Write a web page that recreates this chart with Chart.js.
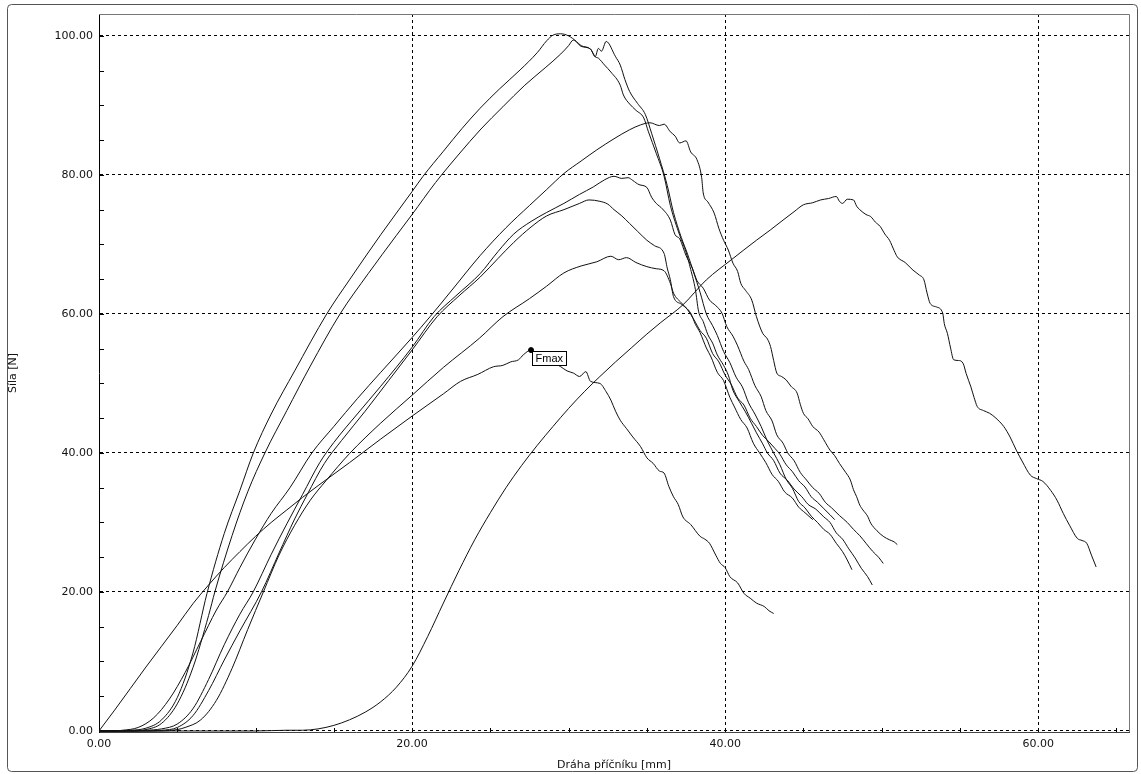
<!DOCTYPE html>
<html>
<head>
<meta charset="utf-8">
<script src="https://cdn.jsdelivr.net/npm/chart.js@4/dist/chart.umd.min.js"></script>
<style>
  html, body { margin: 0; padding: 0; background: #fff; }
  #wrap { width: 1141px; height: 774px; position: relative; }
</style>
</head>
<body>
<div id="wrap"><canvas id="c"></canvas></div>
<script>
// ---- Data (x = Dráha příčníku [mm], y = Síla [N]) ----
const xTicks = [0, 20, 40, 60];
const yTicks = [0, 20, 40, 60, 80, 100];
const xTitle = "Dráha příčníku [mm]";
const yTitle = "Síla [N]";
const markerLabel = "Fmax";

const curveA = [[0,0],[1,0],[2,0.1],[3,0.4],[4,1.6],[5,4.8],[6,11.2],[6.9,19.8],[8,28.4],[9,34.6],[9.86,40],[11,45.6],[12.5,51.8],[14.55,60],[16,64.9],[18,71.4],[20,77.6],[20.7,79.8],[22,83.4],[23.2,86.7],[24.35,89.6],[25.6,92.4],[26.9,95.1],[28,97.6],[28.6,99.3],[29.0,100.1],[29.5,100.3],[30.0,100.0],[30.5,99.2],[30.8,98.6],[31.4,98.1],[31.7,97.0],[31.9,96.8],[32.3,95.8],[32.7,94.8],[33.3,92.9],[33.5,91.5],[33.9,90.2],[34.3,89.3],[34.8,88.2],[35.1,86.2],[35.6,83.1],[36.1,79.8],[36.5,75.6],[37.1,71.3],[37.5,68.9],[37.8,66.4],[38.1,63.5],[38.3,60.4],[38.6,58.9],[38.9,57.0],[39.2,55.8],[39.5,54.1],[39.9,52.6],[40.2,51.2],[40.5,49.0],[40.9,47.4],[41.3,45.9],[41.7,44.2],[42.0,42.9],[42.4,41.3],[42.7,40.0],[43.1,38.9],[43.5,37.1],[44.0,36.0],[44.4,34.8],[44.9,33.7],[45.3,32.6],[45.8,31.9],[46.3,30.8],[46.7,30.0],[47.1,28.5],[47.5,27.6],[47.9,26.2],[48.3,24.9],[48.7,23.4],[49.1,22.2],[49.4,21.0]];

const curveB = [[0,0],[1,0],[2,0],[3,0.2],[4,1.1],[5,3.9],[6,9.1],[7,16.6],[7.4,20],[8.5,28.1],[9.5,34.4],[10.6,40],[12,46.1],[13.5,52.5],[15.4,60],[17.2,65.8],[19,71.3],[20,74.3],[21.5,78.9],[23,83.0],[24.4,86.6],[25.8,89.8],[27.2,92.9],[28.5,95.4],[29.5,97.4],[30.0,98.6],[30.3,99.4],[30.8,98.5],[31.4,98.1],[31.7,97.0],[31.9,98.2],[32.1,97.8],[32.4,99.2],[33.0,97.0],[33.3,95.8],[33.6,93.7],[33.9,92.0],[34.4,90.3],[34.9,88.7],[35.3,86.0],[35.8,82.4],[36.3,78.5],[36.7,74.6],[37.2,71.0],[37.6,68.6],[38.0,65.9],[38.4,63.1],[38.8,60.0],[39.2,58.3],[39.5,56.9],[39.9,54.6],[40.3,53.0],[40.7,50.9],[41.1,49.5],[41.5,47.2],[41.9,45.6],[42.3,43.8],[42.7,41.7],[43.1,40.0],[43.5,38.3],[43.9,36.2],[44.3,34.9],[44.7,33.0],[45.1,32.1],[45.5,30.9],[45.9,30.0],[46.3,29.0],[46.7,28.3],[47.1,27.0],[47.5,25.8],[47.8,24.6],[48.1,23.2]];

const curveC = [[0,0],[1,0],[1.5,0.1],[2.5,0.5],[3.5,1.9],[4.5,4.6],[5.5,8.4],[6.5,12.9],[7.5,17.4],[8.2,20],[9,23.5],[10,27.6],[11,31.3],[12.2,35],[13.6,40],[15,43.8],[16.5,47.8],[18,51.6],[20,56.6],[21.15,59.6],[22.5,63.3],[24.35,68.4],[26,72.4],[27.5,75.6],[28.6,77.9],[29.7,80.2],[30.8,82.0],[31.8,83.6],[32.9,85.2],[33.9,86.5],[34.6,87.2],[35.2,87.5],[35.8,87.1],[36.1,87.3],[36.5,86.2],[36.8,85.6],[37.1,84.6],[37.5,84.9],[37.8,83.3],[38.2,82.2],[38.5,79.6],[38.6,77.4],[38.9,76.1],[39.3,74.5],[39.6,72.3],[39.9,70.6],[40.2,69.2],[40.5,67.3],[40.8,66.1],[41.0,64.4],[41.3,63.4],[41.7,62.0],[42.0,59.6],[42.4,57.2],[42.7,56.4],[42.9,55.3],[43.1,53.3],[43.3,51.5],[43.6,51.0],[43.9,50.5],[44.2,49.6],[44.6,48.6],[44.8,47.0],[45.0,45.7],[45.3,44.9],[45.6,43.8],[46.0,43.0],[46.3,41.9],[46.7,40.4],[47.0,39.6],[47.3,38.5],[47.7,37.2],[48.0,36.1],[48.2,34.7],[48.4,33.7],[48.6,32.5],[48.8,31.8],[49.1,30.9],[49.3,29.9],[49.7,28.8],[50.1,28.0],[50.5,27.5],[50.8,27.2],[51.0,26.8]];

const curveD = [[0,0],[1,0],[2,0],[3,0.1],[4,0.3],[5,1.0],[6,3.2],[7,7.4],[8,12.4],[9,16.8],[9.85,20],[11,25.4],[12,29.8],[13,34.0],[14.1,38.6],[15,41.5],[16.5,45.6],[18,49.6],[20,55.2],[21.4,59.6],[22.8,62.6],[24.35,65.8],[25.5,69.0],[26.5,71.5],[27.6,73.3],[28.6,74.6],[29.7,75.9],[30.7,77.2],[31.6,78.3],[32.3,79.3],[32.9,79.8],[33.4,79.5],[33.8,79.6],[34.1,79.2],[34.5,78.6],[35.0,78.2],[35.3,76.8],[35.6,75.9],[36.0,75.1],[36.5,73.5],[36.8,71.4],[37.1,70.8],[37.5,68.4],[37.9,66.6],[38.2,64.8],[38.6,63.7],[39.0,62.0],[39.4,61.2],[39.8,60.1],[40.1,58.2],[40.5,56.8],[40.8,55.4],[41.2,53.2],[41.5,52.0],[41.9,49.7],[42.3,48.1],[42.6,46.1],[43.0,44.6],[43.3,42.6],[43.7,41.4],[44.0,40.0],[44.4,38.9],[44.8,37.2],[45.2,36.1],[45.6,35.0],[46.0,34.2],[46.4,32.9],[46.8,32.1],[47.3,31.0],[47.8,30.0],[48.2,29.0],[48.6,28.1],[49.0,27.0],[49.4,25.9],[49.8,25.0],[50.1,24.1]];

const curveE = [[0,0],[1,0],[2,0],[3,0],[4,0.1],[5,0.5],[6,2.2],[7,5.8],[8,10.2],[9,14.4],[10.4,20.1],[11.5,25.6],[12.5,30.5],[13.3,34.0],[14.4,38.5],[15.5,41.8],[17,46.0],[18.5,50.4],[20,54.8],[21.6,59.6],[23,62.6],[24.35,65.3],[25.5,68.0],[26.5,70.3],[27.6,72.5],[28.6,74.1],[29.7,75.0],[30.7,75.9],[31.3,76.4],[32.0,76.2],[32.5,75.8],[32.9,75.0],[33.4,74.1],[33.9,73.0],[34.4,71.9],[35.0,70.6],[35.5,69.8],[36.1,68.7],[36.3,66.6],[36.5,64.9],[36.7,62.5],[37.2,61.4],[37.8,60.1],[38.1,58.5],[38.4,57.3],[38.8,55.1],[39.1,53.8],[39.5,51.6],[39.9,50.4],[40.3,48.0],[40.6,46.6],[41.0,44.8],[41.4,43.6],[41.8,41.4],[42.2,40.0],[42.6,38.6],[43.0,36.9],[43.4,35.9],[43.8,34.4],[44.3,33.5],[44.7,32.2],[45.1,31.4],[45.6,30.4]];

const curveF = [[0,0],[1,0],[2,0],[3,0],[4,0],[5,0.2],[5.5,0.5],[6.5,1.6],[7.5,4.4],[8.5,9.0],[9.5,14.6],[10.5,20],[11.5,25.3],[12.5,29.6],[13.5,33.2],[14.5,36.0],[16,39.9],[18,44.3],[20,48.3],[22,52.3],[24.3,56.5],[25.8,59.6],[27.5,62.2],[28.6,64.0],[29.7,65.9],[30.8,66.9],[31.8,67.5],[32.7,68.3],[33.2,67.8],[33.7,68.1],[34.3,67.4],[35.0,66.8],[35.6,66.5],[36.1,66.2],[36.5,64.4],[36.7,63.0],[37.2,61.6],[37.6,60.6],[38.0,59.2],[38.4,57.6],[38.8,56.5],[39.2,54.3],[39.6,53.1],[40.0,51.2],[40.4,49.8],[40.8,47.9],[41.2,46.9],[41.6,45.0],[42.0,43.8],[42.4,42.5],[42.8,41.6],[43.2,40.6],[43.5,39.8],[43.9,38.3],[44.3,37.3],[44.7,36.0],[45.1,35.1],[45.5,33.7],[45.9,32.9],[46.3,32.0],[46.7,31.1],[47.0,30.4]];

const curveG = [[0,0],[1,3],[2,6.1],[3,9.2],[4,12.2],[5,15.2],[6,18.3],[7,21],[8,23.5],[9,25.8],[10,28],[11,30],[12,31.8],[13,33.6],[14,35.3],[16,38.6],[18,42],[20,45.3],[22,48.5],[23.1,50.3],[24.2,51.3],[25.2,52.4],[25.8,52.6],[26.3,53.1],[26.8,53.4],[27.1,54.1],[27.6,54.8],[28.0,53.8],[28.5,53.4],[29.0,53.0],[29.5,52.4],[29.9,51.8],[30.3,51.5],[30.7,51.0],[31.1,51.7],[31.4,50.3],[32.0,50.0],[32.4,48.8],[32.7,47.6],[33.0,46.0],[33.3,44.7],[33.7,43.5],[34.1,42.3],[34.6,40.9],[35.0,39.3],[35.4,38.5],[35.8,37.4],[36.1,37.1],[36.4,35.2],[36.7,33.7],[37.0,32.6],[37.3,30.8],[37.8,29.7],[38.4,28.0],[38.7,27.6],[39.0,27.0],[39.4,25.3],[39.7,24.1],[40.0,23.5],[40.3,22.2],[40.8,21.3],[41.2,19.8],[41.6,19.1],[42.0,18.4],[42.5,17.9],[42.8,17.3],[43.1,16.9]];

const curveH = [[0,0],[2,0],[4,0],[6,0],[8,0],[10,0],[12,0.1],[13,0.1],[14,0.3],[15,0.8],[16,1.6],[17,2.7],[18,4.2],[19,6.3],[20,9.3],[21,13.6],[22,18.4],[23,23.1],[24,27.5],[25,31.4],[26,35.0],[27,38.2],[28,41.1],[29,43.8],[30,46.4],[31,48.8],[32,51.0],[33,53.1],[34,55.1],[35,57.1],[35.85,58.7],[37.3,61.3],[38.8,64.9],[40.4,67.8],[42.0,70.6],[42.9,72.1],[43.7,73.5],[44.4,74.7],[45.0,75.7],[45.6,76.0],[46.1,76.4],[46.6,76.6],[47.1,76.9],[47.3,76.2],[47.5,75.9],[47.8,76.5],[48.2,76.4],[48.4,75.5],[48.6,75.0],[49.0,74.3],[49.3,74.0],[49.6,73.2],[49.9,72.6],[50.2,71.5],[50.5,70.6],[50.8,69.1],[51.0,68.2],[51.5,67.4],[52.0,66.3],[52.4,65.6],[52.7,64.9],[52.9,63.0],[53.1,61.5],[53.5,61.0],[53.9,60.1],[54.0,58.6],[54.2,57.2],[54.4,55.1],[54.6,53.4],[54.9,53.3],[55.2,52.9],[55.4,51.4],[55.7,49.5],[55.9,48.0],[56.1,46.7],[56.5,46.1],[56.9,45.7],[57.3,45.0],[57.8,43.8],[58.2,42.3],[58.6,40.4],[59.0,38.7],[59.5,36.8],[59.9,36.3],[60.3,35.9],[60.8,34.6],[61.2,33.2],[61.6,31.3],[62.0,29.6],[62.5,27.7],[62.8,27.4],[63.1,27.0],[63.4,25.3],[63.7,23.6]];

const curves = [curveA, curveB, curveC, curveD, curveE, curveF, curveG, curveH];
const markedCurve = 6; // curve with the Fmax marker

// ---- Chart ----
const toXY = arr => arr.map(p => ({x: p[0], y: p[1]}));
const gPeakIdx = curves[markedCurve].reduce((best, p, i, a) => p[1] > a[best][1] ? i : best, 0);

const tickFont = {family: 'DejaVu Sans', size: 11};

const decor = {
  id: 'decor',
  beforeDraw(chart) {
    const c = chart.ctx;
    c.save();
    c.fillStyle = '#fff';
    c.fillRect(0, 0, chart.width, chart.height);
    const x0 = 7.5, y0 = 4.5, x1 = 1137.5, y1 = 771.5, r = 4;
    c.strokeStyle = '#555';
    c.lineWidth = 1;
    c.beginPath();
    c.moveTo(x0 + r, y0);
    c.arcTo(x1, y0, x1, y1, r);
    c.arcTo(x1, y1, x0, y1, r);
    c.arcTo(x0, y1, x0, y0, r);
    c.arcTo(x0, y0, x1, y0, r);
    c.closePath();
    c.stroke();
    c.restore();
  },
  afterDraw(chart) {
    const c = chart.ctx, a = chart.chartArea, xs = chart.scales.x, ys = chart.scales.y;
    c.save();
    c.strokeStyle = '#777';
    c.lineWidth = 1;
    c.beginPath();
    c.moveTo(a.left, a.top + 0.5);
    c.lineTo(a.right + 0.5, a.top + 0.5);
    c.lineTo(a.right + 0.5, a.bottom);
    c.stroke();
    c.strokeStyle = '#000';
    c.beginPath();
    for (let v = 5; v < xs.max; v += 5) {
      const px = Math.round(xs.getPixelForValue(v)) + 0.5;
      c.moveTo(px, a.bottom);
      c.lineTo(px, a.bottom - 4);
    }
    for (let v = 5; v < ys.max; v += 5) {
      const py = Math.round(ys.getPixelForValue(v)) + 0.5;
      c.moveTo(a.left, py);
      c.lineTo(a.left + 5, py);
    }
    c.stroke();
    const meta = chart.getDatasetMeta(markedCurve);
    const pt = meta.data[gPeakIdx];
    if (pt) {
      const bx = Math.round(pt.x) + 1.5, by = Math.round(pt.y) + 1.5;
      c.font = '11px "Liberation Sans"';
      const w = Math.ceil(c.measureText(markerLabel).width) + 6;
      c.fillStyle = '#fff';
      c.fillRect(bx, by, w, 14);
      c.strokeStyle = '#000';
      c.strokeRect(bx, by, w, 14);
      c.fillStyle = '#000';
      c.textBaseline = 'middle';
      c.fillText(markerLabel, bx + 3, by + 7.5);
    }
    c.restore();
  }
};

new Chart(document.getElementById('c'), {
  type: 'line',
  data: {
    datasets: curves.map((cv, i) => ({
      data: toXY(cv),
      borderColor: '#111',
      borderWidth: 1,
      fill: false,
      cubicInterpolationMode: 'monotone',
      pointRadius: i === markedCurve ? (ctx => ctx.dataIndex === gPeakIdx ? 2.5 : 0) : 0,
      pointBackgroundColor: '#000',
      pointBorderColor: '#000',
      pointHoverRadius: 0
    }))
  },
  options: {
    responsive: true,
    maintainAspectRatio: false,
    animation: false,
    events: [],
    layout: {padding: {top: 14, right: 12, left: 0, bottom: 0}},
    plugins: {legend: {display: false}, tooltip: {enabled: false}},
    scales: {
      x: {
        type: 'linear',
        min: 0, max: 65.8,
        afterFit: s => { s.height = 42; },
        afterBuildTicks: s => { s.ticks = xTicks.map(v => ({value: v})); },
        ticks: {
          font: tickFont, color: '#111', padding: 6, maxRotation: 0,
          callback: v => Number(v).toFixed(2)
        },
        grid: {
          drawTicks: false,
          color: ctx => (ctx.tick && ctx.tick.value === 0) ? 'rgba(0,0,0,0)' : '#000',
          lineWidth: 1
        },
        border: {display: true, color: '#444', width: 1, dash: [3, 3]},
        title: {
          display: true, text: xTitle, color: '#111',
          font: {family: 'DejaVu Sans', size: 11},
          padding: {top: 0, bottom: 2}
        }
      },
      y: {
        type: 'linear',
        min: -0.15, max: 103.15,
        afterFit: s => { s.width = 99; },
        afterBuildTicks: s => { s.ticks = yTicks.map(v => ({value: v})); },
        ticks: {
          font: tickFont, color: '#111', padding: 6,
          callback: v => Number(v).toFixed(2)
        },
        grid: {drawTicks: false, color: '#000', lineWidth: 1},
        border: {display: true, color: '#000', width: 1, dash: [3, 3]},
        title: {
          display: true, text: yTitle, color: '#111',
          font: {family: 'DejaVu Sans', size: 11},
          padding: {top: 7, bottom: 0}
        }
      }
    }
  },
  plugins: [decor]
});
</script>
</body>
</html>
